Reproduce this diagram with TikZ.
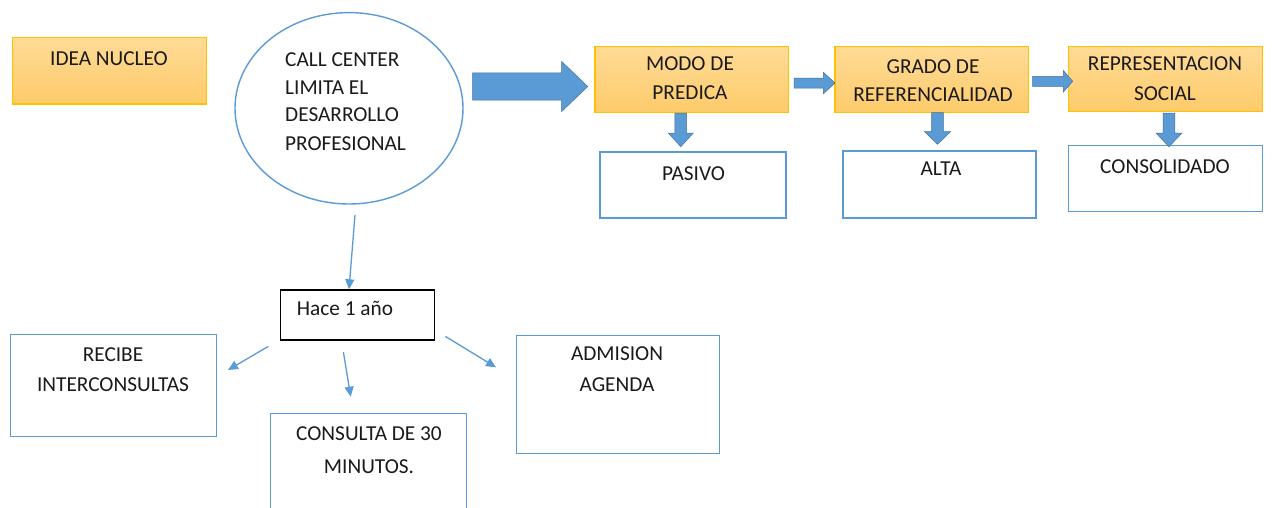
\documentclass[tikz,border=0pt]{standalone}
\usepackage{fontspec}
\setmainfont{Carlito}
\usetikzlibrary{arrows.meta,calc}
\definecolor{obord}{HTML}{FFC000}
\definecolor{otop}{HTML}{FFDB96}
\definecolor{obot}{HTML}{FDCB6A}
\definecolor{bblue}{HTML}{5B9BD5}
\definecolor{bedge}{HTML}{41719C}
\definecolor{txt}{HTML}{1A1A1A}
\newcommand\hblockarrow[6]{% x0 x1 x2 yc bodyhalf headhalf
  \filldraw[blockarrow] (#1,#4-#5) -- (#2,#4-#5) -- (#2,#4-#6) -- (#3,#4) -- (#2,#4+#6) -- (#2,#4+#5) -- (#1,#4+#5) -- cycle;}
\newcommand\vblockarrow[6]{% y0 y1 y2 xc bodyhalf headhalf
  \filldraw[blockarrow] (#4-#5,#1) -- (#4-#5,#2) -- (#4-#6,#2) -- (#4,#3) -- (#4+#6,#2) -- (#4+#5,#2) -- (#4+#5,#1) -- cycle;}
\begin{document}
\begin{tikzpicture}[x=1pt,y=-1pt,
  every node/.style={font=\fontsize{21.3}{28}\selectfont, text=txt, inner sep=0pt},
  obox/.style={draw=obord, line width=1.4pt, top color=otop, bottom color=obot},
  wbox/.style={draw=bblue, line width=1.4pt, fill=white},
  kbox/.style={draw=black, line width=1.4pt, fill=white},
  blockarrow/.style={fill=bblue, draw=bedge, line width=0.5pt},
  conn/.style={draw=bblue, line width=1.3pt, -{Triangle[length=10pt,width=9pt]}},
  lbl/.style={anchor=base}]
\useasboundingbox (0,0) rectangle (1272,507);
\fill[white] (0,0) rectangle (1272,507);

% boxes
\path[obox] (12.7,37.3) rectangle (206.7,104);
\node[lbl] (tidea) at (109,65) {IDEA NUCLEO};

\draw[bblue, line width=1.4pt] (349,108.3) ellipse [x radius=114, y radius=95.7];
\coordinate (ellS) at (349,204);
\node[anchor=base west] (te1) at (285,66.7) {CALL CENTER};
\node[anchor=base west] (te2) at (285,94.3) {LIMITA EL};
\node[anchor=base west] (te3) at (285,121.7) {DESARROLLO};
\node[anchor=base west] (te4) at (285,150.7) {PROFESIONAL};

\path[obox] (595,46.7) rectangle (788.3,112.7);
\node[lbl] (tm1) at (690,70.7) {MODO DE};
\node[lbl] (tm2) at (690,99.3) {PREDICA};

\path[obox] (835,46.7) rectangle (1028.3,112.7);
\node[lbl] (tg1) at (933,73) {GRADO DE};
\node[lbl] (tg2) at (933,101.7) {REFERENCIALIDAD};

\path[obox] (1068.3,46.7) rectangle (1262.7,111.7);
\node[lbl] (tr1) at (1165,70) {REPRESENTACION};
\node[lbl] (tr2) at (1165,100) {SOCIAL};

\path[wbox] (600,152) rectangle (786,218);
\node[lbl] (tp) at (693.5,180) {PASIVO};
\path[wbox] (843,151) rectangle (1036,218);
\node[lbl] (ta) at (941,175.7) {ALTA};
\path[wbox] (1068.3,145.5) rectangle (1262.7,211.7);
\node[lbl] (tc) at (1165,173) {CONSOLIDADO};

% block arrows
\hblockarrow{472.7}{561.7}{587.7}{86.5}{13.7}{25}
\hblockarrow{794}{823.3}{835}{83}{5}{10.8}
\hblockarrow{1032.7}{1063.3}{1072.7}{81.3}{5}{10.8}
\vblockarrow{113}{133}{146.7}{680.8}{5.9}{12.5}
\vblockarrow{112.7}{131.7}{144.3}{937.5}{5.9}{13}
\vblockarrow{113}{133}{146.7}{1169}{5.9}{13}

% lower part
\node[kbox, minimum width=154pt, minimum height=50pt, anchor=north west] (hace) at (280,289.3) {};
\node[anchor=base west] (th) at (296.7,315) {Hace 1 año};

\node[wbox, minimum width=206pt, minimum height=101.7pt, anchor=north west] (recibe) at (10,334) {};
\node[lbl] (trc1) at (113,361.7) {RECIBE};
\node[lbl] (trc2) at (113,391.7) {INTERCONSULTAS};

\node[wbox, minimum width=196pt, minimum height=97pt, anchor=north west] (consulta) at (270,413) {};
\node[lbl] (tcs1) at (369,440) {CONSULTA DE 30};
\node[lbl] (tcs2) at (369,473) {MINUTOS.};

\node[wbox, minimum width=202.7pt, minimum height=118pt, anchor=north west] (admision) at (516,335) {};
\node[lbl] (tad1) at (617,360.7) {ADMISION};
\node[lbl] (tad2) at (617,391.7) {AGENDA};

% connectors
\draw[conn] ([xshift=6pt,yshift=-11pt]ellS) -- ([xshift=-8.7pt]hace.north);
\draw[conn] ([xshift=-11.7pt,yshift=-5.7pt]hace.south west) -- ([xshift=10.6pt,yshift=-36pt]recibe.north east);
\draw[conn] ([xshift=-14.3pt,yshift=-11.4pt]hace.south) -- ([xshift=-18pt,yshift=16.3pt]consulta.north);
\draw[conn] ([xshift=10pt,yshift=4.3pt]hace.south east) -- ([xshift=-20pt,yshift=-32.3pt]admision.north west);
\end{tikzpicture}
\end{document}
